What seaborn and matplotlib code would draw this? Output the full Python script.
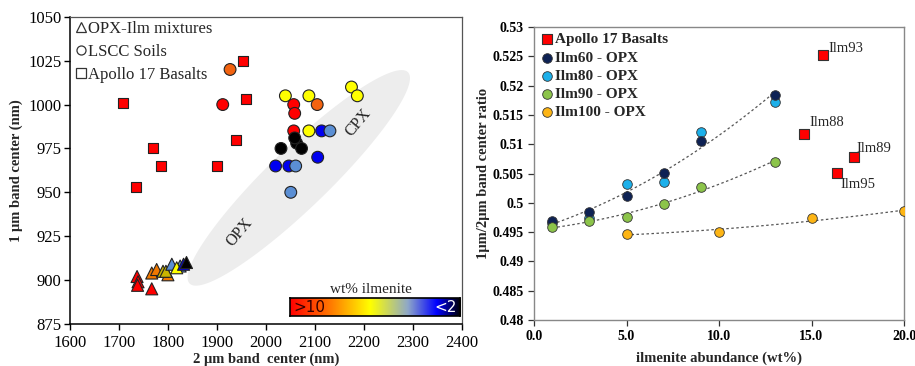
import numpy as np
import pandas as pd
import matplotlib
matplotlib.use("Agg")
import matplotlib.pyplot as plt
from matplotlib.colors import LinearSegmentedColormap
from matplotlib.patches import Polygon
from matplotlib.lines import Line2D
import seaborn as sns

sns.set_style("white")
plt.rcParams['font.family'] = ['Liberation Serif', 'DejaVu Serif']

# ---------------- Left panel data ----------------
basalt_x = [1708, 1769, 1785, 1900, 1940, 1960, 1953, 1735]
basalt_y = [1001, 975, 965, 965, 980, 1003, 1025, 953]

soil_x = [1927, 1912, 2040, 2088, 2105, 2057, 2059, 2175, 2187, 2057, 2088, 2114, 2131,
          2063, 2059, 2031, 2073, 2106, 2020, 2047, 2061, 2051]
soil_y = [1020, 1000, 1005, 1005, 1000, 1000, 995, 1010, 1005, 985, 985, 985, 985,
          978, 981, 975, 975, 970, 965, 965, 965, 950]
soil_c = ['orange', 'red', 'yellow', 'yellow', 'orange', 'red', 'red', 'yellow', 'yellow',
          'red', 'yellow', 'blue', 'steel', 'black', 'black', 'black', 'black', 'blue',
          'blue', 'blue', 'steel', 'steel']

mix_x = [1737, 1739, 1738, 1767, 1767, 1777, 1800, 1790, 1796, 1808, 1825, 1818, 1832, 1838]
mix_y = [902, 899, 897, 895, 904, 906, 903, 905, 905, 909, 908, 907, 909, 910]
mix_c = ['red', 'red', 'red', 'red', 'dorange', 'dorange', 'dorange', 'olive', 'olive',
         'steel', 'steel', 'yellow', 'blue', 'black']

palette_left = {'red': '#FF0000', 'orange': '#F26310', 'yellow': '#FFFF00', 'blue': '#0000F0',
                'steel': '#5B8FD4', 'black': '#000000', 'dorange': '#F07800', 'olive': '#C8B400'}

# ---------------- Right panel data ----------------
x_opx = [1, 3, 5, 7, 9, 13]
ilm60 = [0.4969, 0.4984, 0.5012, 0.5051, 0.5105, 0.5185]
ilm80 = [0.4966, 0.4975, 0.5032, 0.5036, 0.5121, 0.5172]
ilm90 = [0.4959, 0.4969, 0.4976, 0.4998, 0.5027, 0.5070]
x_ilm100 = [5, 10, 15, 20]
ilm100 = [0.4947, 0.4950, 0.4974, 0.4986]
apollo_x = [15.6, 14.6, 17.3, 16.4]
apollo_y = [0.5252, 0.5118, 0.5078, 0.5051]
apollo_lab = ['Ilm93', 'Ilm88', 'Ilm89', 'Ilm95']

fig = plt.figure(figsize=(9.15, 3.66), dpi=100)
axL = fig.add_axes([0.0765, 0.115, 0.428, 0.839])
axR = fig.add_axes([0.5836, 0.1257, 0.4044, 0.800])

# ----- left panel -----
axL.set_xlim(1600, 2400)
axL.set_ylim(875, 1050)

# shaded ellipse (OPX-CPX field) built in axes-pixel space
W, H = 392.0, 307.0
cx, cy = (299 - 70) / W, 1 - (178 - 17) / H
a, b = 152.0, 30.0
ang = np.deg2rad(44)
t = np.linspace(0, 2 * np.pi, 200)
px = a * np.cos(t) * np.cos(ang) - b * np.sin(t) * np.sin(ang)
py = a * np.cos(t) * np.sin(ang) + b * np.sin(t) * np.cos(ang)
pts = np.column_stack([cx + px / W, cy + py / H])
axL.add_patch(Polygon(pts, closed=True, transform=axL.transAxes, facecolor='#EDEDED',
                      edgecolor='none', zorder=0))
axL.text(1947, 927, 'OPX', rotation=50, fontsize=11.5, ha='center', va='center', color='#222')
axL.text(2188, 990, 'CPX', rotation=50, fontsize=11.5, ha='center', va='center', color='#222')

dfb = pd.DataFrame({'x': basalt_x, 'y': basalt_y})
dfs = pd.DataFrame({'x': soil_x, 'y': soil_y, 'c': soil_c})
dfm = pd.DataFrame({'x': mix_x, 'y': mix_y, 'c': mix_c})
sns.scatterplot(data=dfm, x='x', y='y', hue='c', palette=palette_left, marker='^', s=75,
                edgecolor='#222', linewidth=0.8, legend=False, ax=axL, zorder=3)
sns.scatterplot(data=dfs, x='x', y='y', hue='c', palette=palette_left, marker='o', s=72,
                edgecolor='#222', linewidth=0.8, legend=False, ax=axL, zorder=3)
sns.scatterplot(data=dfb, x='x', y='y', color='#FF0000', marker='s', s=62,
                edgecolor='#222', linewidth=0.8, legend=False, ax=axL, zorder=3)

axL.set_xticks(np.arange(1600, 2401, 100))
axL.set_yticks(np.arange(875, 1051, 25))
axL.tick_params(axis='both', labelsize=12, direction='out', length=4, width=1,
                colors='black', left=True, bottom=True, pad=2)
axL.tick_params(axis='x', pad=4)
axL.set_xlabel('2 μm band  center (nm)', fontsize=10.5, fontweight='bold', labelpad=1)
axL.set_ylabel('1 μm band center (nm)', fontsize=10.5, fontweight='bold', labelpad=4)
for sp in ['left', 'bottom']:
    axL.spines[sp].set_color('black')
    axL.spines[sp].set_linewidth(1.1)
for sp in ['top', 'right']:
    axL.spines[sp].set_color('#555')
    axL.spines[sp].set_linewidth(0.9)

hL = [Line2D([], [], marker='^', ls='', mfc='white', mec='#333', ms=6.5, mew=0.9),
      Line2D([], [], marker='o', ls='', mfc='white', mec='#333', ms=6.5, mew=0.9),
      Line2D([], [], marker='s', ls='', mfc='white', mec='#333', ms=6.5, mew=0.9)]
axL.legend(hL, ['OPX-Ilm mixtures', 'LSCC Soils', 'Apollo 17 Basalts'], loc='upper left',
           frameon=False, fontsize=12, handletextpad=0.05, handlelength=0.8,
           labelspacing=0.42, borderaxespad=0.0, borderpad=0.25)

# colour bar legend
cax = fig.add_axes([0.317, 0.137, 0.186, 0.049])
cmap = LinearSegmentedColormap.from_list('ilm', [(0, '#FF0000'), (0.22, '#FF7000'),
                                                 (0.47, '#FFFF00'), (0.69, '#8FA8C8'),
                                                 (0.86, '#0000FF'), (1.0, '#000000')])
cax.imshow(np.linspace(0, 1, 256)[None, :], aspect='auto', cmap=cmap, extent=[0, 1, 0, 1])
cax.set_xticks([]); cax.set_yticks([])
for sp in cax.spines.values():
    sp.set_color('black'); sp.set_linewidth(1.2)
cax.text(0.02, 0.45, '>10', fontsize=11, ha='left', va='center', color='#300', family='DejaVu Sans')
cax.text(0.98, 0.45, '<2', fontsize=11, ha='right', va='center', color='white', family='DejaVu Sans')
fig.text(0.405, 0.208, 'wt% ilmenite', fontsize=11, ha='center', va='center')

# ----- right panel -----
axR.set_xlim(0, 20)
axR.set_ylim(0.48, 0.53)

fit_x1 = np.linspace(1, 13, 100)
p60 = np.polyfit(x_opx, ilm60, 2)
p90 = np.polyfit(x_opx, ilm90, 2)
fit_x2 = np.linspace(5, 20, 100)
p100 = np.polyfit(x_ilm100, ilm100, 2)
for fx, pp in [(fit_x1, p60), (fit_x1, p90), (fit_x2, p100)]:
    sns.lineplot(x=fx, y=np.polyval(pp, fx), ax=axR, color='#555', lw=0.9,
                 linestyle=(0, (2, 2)), zorder=2)

ms = 48
sns.scatterplot(x=apollo_x, y=apollo_y, ax=axR, marker='s', s=48, color='#FF0000',
                edgecolor='#333', linewidth=0.8, zorder=4, label='Apollo 17 Basalts')
sns.scatterplot(x=x_opx, y=ilm60, ax=axR, s=ms, color='#0E2254', edgecolor='#333',
                linewidth=0.6, zorder=4, label='Ilm60 - OPX')
sns.scatterplot(x=x_opx, y=ilm80, ax=axR, s=ms, color='#1CB0EA', edgecolor='#333',
                linewidth=0.6, zorder=3, label='Ilm80 - OPX')
sns.scatterplot(x=x_opx, y=ilm90, ax=axR, s=ms, color='#8CC44A', edgecolor='#333',
                linewidth=0.6, zorder=4, label='Ilm90 - OPX')
sns.scatterplot(x=x_ilm100, y=ilm100, ax=axR, s=ms, color='#FDB515', edgecolor='#333',
                linewidth=0.6, zorder=4, label='Ilm100 - OPX')

offs = {'Ilm93': (4.3, 5), 'Ilm88': (3.6, 8), 'Ilm89': (1.5, 6.5), 'Ilm95': (2, -8)}
for xx, yy, lab in zip(apollo_x, apollo_y, apollo_lab):
    dx, dy = offs[lab]
    axR.annotate(lab, (xx, yy), xytext=(dx, dy), textcoords='offset points',
                 fontsize=10.5, ha='left', va='center')

axR.set_xticks(np.arange(0, 20.1, 5))
axR.set_xticklabels([f'{v:.1f}' for v in np.arange(0, 20.1, 5)])
yt = np.arange(0.48, 0.5301, 0.005)
axR.set_yticks(yt)
axR.set_yticklabels([f'{v:.3f}'.rstrip('0').rstrip('.') for v in yt])
axR.tick_params(axis='both', labelsize=10, direction='out', length=4, width=0.9,
                colors='#333', labelcolor='black', left=True, bottom=True)
for lab in axR.get_xticklabels() + axR.get_yticklabels():
    lab.set_fontweight('bold')
axR.set_xlabel('ilmenite abundance (wt%)', fontsize=10.5, fontweight='bold', labelpad=6)
axR.set_ylabel('1μm/2μm band center ratio', fontsize=10.5, fontweight='bold', labelpad=2)
for sp in axR.spines.values():
    sp.set_color('#888')
    sp.set_linewidth(1.0)
leg = axR.legend(loc='upper left', frameon=False, prop={'weight': 'bold', 'size': 11},
                 handletextpad=0.0, handlelength=1.0, labelspacing=0.3,
                 borderaxespad=0.15, borderpad=0.2, markerscale=1.0)

fig.savefig('out.png', dpi=100)
